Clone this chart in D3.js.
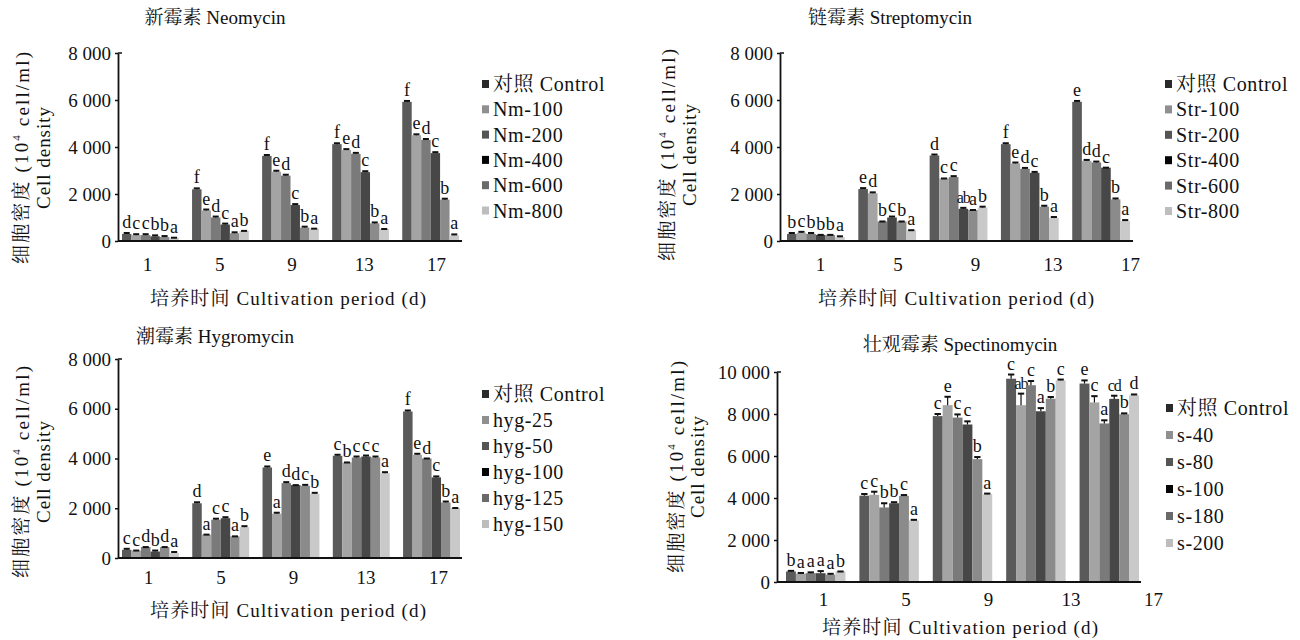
<!DOCTYPE html>
<html><head><meta charset="utf-8">
<script src="https://cdn.jsdelivr.net/npm/d3@7"></script>
<style>
body{margin:0;background:#fff}
text{font-family:"Liberation Serif","Times New Roman","Noto Serif CJK SC","Noto Sans CJK SC",serif;fill:#111}
</style>
</head><body>
<svg id="c" width="1300" height="640"></svg>
<script>
// ---------- data ----------
const days = ["1","5","9","13","17"];
const barColors = ["#5a5a5a","#a4a4a4","#7a7a7a","#474747","#8b8b8b","#c9c9c9"];
const legendColors = ["#2a2a2a","#8f8f8f","#555555","#050505","#6a6a6a","#bdbdbd"];

const neoSeries = ["对照 Control","Nm-100","Nm-200","Nm-400","Nm-600","Nm-800"];
const neoValues = [
  [300, 2200, 3620, 4120, 5920],
  [250, 1300, 2950, 3870, 4500],
  [250, 1000, 2780, 3710, 4300],
  [200,  700, 1530, 2930, 3740],
  [170,  330,  570,  750, 1760],
  [140,  430,  525,  510,  240]
];
const neoErrors = [
  [40,40,40,40,40],[40,40,40,40,40],[40,40,40,40,40],
  [40,40,40,40,40],[40,40,40,40,40],[0,0,0,0,40]
];
const neoLetters = [
  ["d","f","f","f","f"],
  ["c","e","e","e","e"],
  ["c","d","d","d","d"],
  ["b","c","c","c","c"],
  ["b","a","b","b","b"],
  ["a","b","a","a","a"]
];

const strSeries = ["对照 Control","Str-100","Str-200","Str-400","Str-600","Str-800"];
const strValues = [
  [300, 2210, 3640, 4120, 5920],
  [350, 2030, 2660, 3300, 3410],
  [300,  830, 2720, 3070, 3340],
  [260, 1000, 1370, 2900, 3120],
  [260,  830, 1320, 1460, 1770],
  [160,  460, 1420,  980,  850]
];
const strErrors = [
  [40,40,40,40,40],[40,40,0,40,40],[40,0,40,40,40],
  [0,40,40,40,0],[0,0,0,40,40],[40,0,40,40,40]
];
const strLetters = [
  ["b","e","d","f","e"],
  ["c","d","c","e","d"],
  ["b","b","c","d","d"],
  ["b","c","ab","c","c"],
  ["b","b","a","b","b"],
  ["a","a","b","a","a"]
];

const hygSeries = ["对照 Control","hyg-25","hyg-50","hyg-100","hyg-125","hyg-150"];
const hygValues = [
  [330, 2200, 3640, 4110, 5890],
  [300,  940, 1780, 3840, 4150],
  [440, 1540, 3010, 4040, 4000],
  [260, 1600, 2930, 4080, 3240],
  [440,  870, 2900, 4040, 2230],
  [200, 1240, 2580, 3410, 2010]
];
const hygErrors = [
  [40,40,40,40,40],[0,0,40,0,40],[0,40,40,40,0],
  [40,40,0,40,40],[0,0,40,40,40],[40,40,40,40,0]
];
const hygLetters = [
  ["c","d","e","c","f"],
  ["c","a","a","b","e"],
  ["d","c","d","c","d"],
  ["b","c","d","c","c"],
  ["d","a","c","c","b"],
  ["a","b","b","a","a"]
];

const speSeries = ["对照 Control","s-40","s-80","s-100","s-180","s-200"];
const speValues = [
  [500, 4110, 7900, 9680, 9450],
  [400, 4150, 8420, 8420, 8550],
  [420, 3550, 7830, 9370, 7550],
  [420, 3750, 7500, 8130, 8720],
  [350, 4100, 5850, 8730, 7990],
  [500, 2930, 4180, 9600, 8890]
];
const speErrors = [
  [30,  80, 100, 200, 150],
  [30, 150, 400, 550, 300],
  [40, 200, 150, 200, 150],
  [100, 50, 150, 150, 150],
  [40,  40, 100,  80,  40],
  [0,   30,  30,  40,  40]
];
const speLetters = [
  ["b","c","c","c","e"],
  ["a","c","e","ab","c"],
  ["a","b","c","c","a"],
  ["a","b","c","a","cd"],
  ["a","c","b","b","b"],
  ["b","a","a","c","d"]
];

const yTicks8 = [0,2000,4000,6000,8000];
const yTicks10 = [0,2000,4000,6000,8000,10000];
const xTitle = "培养时间 Cultivation period (d)";
const yLabel1 = ["细胞密度 (10","4"," cell/ml)"];
const yLabel2 = "Cell density";

// ---------- layout ----------
const panels = [
  {title:"新霉素 Neomycin", series:neoSeries, values:neoValues, errors:neoErrors, letters:neoLetters, ticks:yTicks8,
   axisX:118, y0:241, yTop:53, bandStart:122, bandEnd:459, axisEnd:462, tickStart:147, tickEnd:436, tickY:271,
   xTitleX:288, xTitleY:305, titleX:215, titleY:24, ylab1:21, ylab2:43, ylabY:158, legX:482, legY:84, legStep:25.3},
  {title:"链霉素 Streptomycin", series:strSeries, values:strValues, errors:strErrors, letters:strLetters, ticks:yTicks8,
   axisX:780, y0:241, yTop:53, bandStart:787, bandEnd:1130, axisEnd:1133, tickStart:820, tickEnd:1130, tickY:271,
   xTitleX:956, xTitleY:305, titleX:890, titleY:24, ylab1:667, ylab2:689, ylabY:155, legX:1165, legY:84, legStep:25.4},
  {title:"潮霉素 Hygromycin", series:hygSeries, values:hygValues, errors:hygErrors, letters:hygLetters, ticks:yTicks8,
   axisX:118, y0:558, yTop:359, bandStart:122, bandEnd:460, axisEnd:462, tickStart:148, tickEnd:438, tickY:584,
   xTitleX:288, xTitleY:617, titleX:215, titleY:343, ylab1:21, ylab2:43, ylabY:472, legX:482, legY:394, legStep:26},
  {title:"壮观霉素 Spectinomycin", series:speSeries, values:speValues, errors:speErrors, letters:speLetters, ticks:yTicks10,
   axisX:777, y0:582, yTop:372, bandStart:786, bandEnd:1139, axisEnd:1141, tickStart:823, tickEnd:1153, tickY:606,
   xTitleX:960, xTitleY:634, titleX:960, titleY:351, ylab1:676, ylab2:697, ylabY:467, legX:1166, legY:408, legStep:27}
];

const svg = d3.select("#c");
const fmt = d => d3.format(",")(d).replace(/,/g, " ");

panels.forEach(p => {
  const g = svg.append("g");
  const yMax = d3.max(p.ticks);
  const y = d3.scaleLinear().domain([0, yMax]).range([p.y0, p.yTop]);
  const x0 = d3.scaleBand().domain(days).range([p.bandStart, p.bandEnd]).paddingInner(0.19).paddingOuter(0);
  const x1 = d3.scaleBand().domain(d3.range(p.series.length)).range([0, x0.bandwidth()]).padding(0);
  const xt = d3.scalePoint().domain(days).range([p.tickStart, p.tickEnd]);

  // title
  g.append("text").attr("x", p.titleX).attr("y", p.titleY).attr("text-anchor","middle")
    .attr("font-size", 19).text(p.title);

  // bars
  p.series.forEach((s, si) => {
    const sg = g.append("g");
    days.forEach((d, di) => {
      const v = p.values[si][di], e = p.errors[si][di];
      const bx = x0(d) + x1(si), bw = x1.bandwidth();
      sg.append("rect").attr("x", bx).attr("y", y(v)).attr("width", bw).attr("height", p.y0 - y(v))
        .attr("fill", barColors[si]);
      const cx = bx + bw/2;
      if (e > 0) {
        sg.append("line").attr("x1", cx).attr("x2", cx).attr("y1", y(v)).attr("y2", y(v+e))
          .attr("stroke","#111").attr("stroke-width",1.2);
      }
      sg.append("line").attr("x1", cx - bw*0.32).attr("x2", cx + bw*0.32).attr("y1", y(v+e)).attr("y2", y(v+e))
        .attr("stroke","#111").attr("stroke-width",2);
      const lt = p.letters[si][di];
      g.append("text").attr("x", cx).attr("y", y(v+e) - 5).attr("text-anchor","middle")
        .attr("font-size", lt.length > 1 ? 16 : 18).attr("letter-spacing", lt.length > 1 ? -1 : 0).text(lt);
    });
  });

  // y axis
  const ya = g.append("g").attr("transform", `translate(${p.axisX},0)`)
    .call(d3.axisLeft(y).tickValues(p.ticks).tickFormat(fmt).tickSize(3).tickSizeOuter(0).tickPadding(4));
  ya.select(".domain").attr("stroke","#111").attr("stroke-width",1.8);
  ya.selectAll(".tick line").attr("stroke","#111").attr("stroke-width",1.5);
  ya.selectAll(".tick text").attr("font-size",19).attr("font-family",'"Liberation Serif",serif').attr("fill","#111");
  g.append("line").attr("x1", p.axisX).attr("x2", p.axisX+4).attr("y1", y(yMax)).attr("y2", y(yMax))
    .attr("stroke","#111").attr("stroke-width",1.5);

  // x axis line
  g.append("line").attr("x1", p.axisX).attr("x2", p.axisEnd).attr("y1", p.y0).attr("y2", p.y0)
    .attr("stroke","#111").attr("stroke-width",1.8);
  const xa = g.append("g").attr("transform", `translate(0,${p.tickY - 14})`)
    .call(d3.axisBottom(xt).tickSize(0).tickPadding(0));
  xa.select(".domain").remove();
  xa.selectAll(".tick text").attr("font-size",19).attr("font-family",'"Liberation Serif",serif').attr("fill","#111")
    .attr("dy","0.71em");

  // x title
  g.append("text").attr("x", p.xTitleX).attr("y", p.xTitleY).attr("text-anchor","middle")
    .attr("font-size", 19).attr("textLength", 276).attr("lengthAdjust","spacing").text(xTitle);

  // y label (two lines, rotated)
  const yl = g.append("text").attr("transform", `translate(${p.ylab1},${p.ylabY}) rotate(-90)`)
    .attr("text-anchor","middle").attr("dy","0.35em").attr("font-size",19)
    .attr("textLength", 212).attr("lengthAdjust","spacing");
  yl.append("tspan").text(yLabel1[0]);
  yl.append("tspan").attr("font-size",11).attr("dy","-0.7em").text(yLabel1[1]);
  yl.append("tspan").attr("dy","0.45em").text(yLabel1[2]);
  g.append("text").attr("transform", `translate(${p.ylab2},${p.ylabY}) rotate(-90)`)
    .attr("text-anchor","middle").attr("dy","0.35em").attr("font-size",19)
    .attr("textLength", 102).attr("lengthAdjust","spacing").text(yLabel2);

  // legend
  const lg = g.append("g");
  p.series.forEach((s, si) => {
    const ly = p.legY + si*p.legStep;
    lg.append("rect").attr("x", p.legX).attr("y", ly - 4).attr("width", 7).attr("height", 8).attr("fill", legendColors[si]);
    lg.append("text").attr("x", p.legX + 11).attr("y", ly).attr("dy","0.35em").attr("font-size",20)
      .attr("letter-spacing", 0.6).text(s);
  });
});
</script>
</body></html>
